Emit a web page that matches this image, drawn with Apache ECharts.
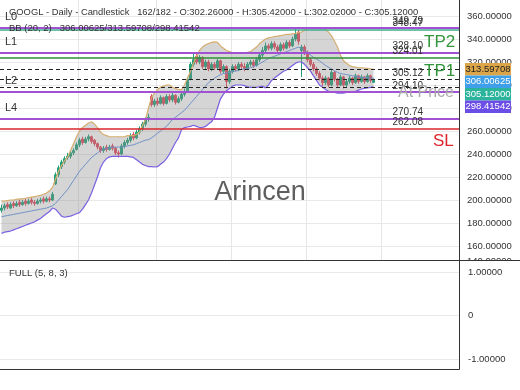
<!DOCTYPE html>
<html><head><meta charset="utf-8">
<script src="https://cdn.jsdelivr.net/npm/echarts@6/dist/echarts.min.js"></script>
<style>html,body{margin:0;padding:0;background:#fff}#c{width:520px;height:390px}</style>
</head><body><div id="c"></div>
<script>
// ---------- data ----------
const symbolTitle = 'GOOGL - Daily - Candlestick';
const barIndex = 162, barTotal = 182;
const totalSlots = 153;
const opens = [191,193,196,193,197,195,198,196,199,197,
200,198,197,199,201,199,201,200,214,222,
229,233,237,238,241,244,248,253,250,253,
255,252,249,246,243,246,244,247,245,241,
240,247,250,252,257,254,259,262,266,270,
290,283,286,284,289,284,290,287,291,285,
288,292,295,305,318,325,320,324,316,320,
314,318,315,321,312,316,303,312,316,314,
318,316,314,318,320,317,322,326,330,334,
332,336,333,330,335,332,337,334,340,346,
330,333,328,322,318,314,310,306,302,306,
300,311,305,300,307,300,303,306,302,308,
303,307,303,308,302.26];
const closes = [193,195,194,196,195,197,196,198,197,199,
198,197,199,200,199,201,200,205,222,228,
233,236,238,241,243,248,252,250,253,255,
251,249,246,243,245,244,246,245,241,240,
247,250,252,256,254,259,262,266,270,272,
283,286,284,289,284,290,287,291,285,288,
292,294,305,318,322,320,324,316,320,314,
318,315,321,312,316,303,312,316,314,318,
316,314,318,320,317,322,326,330,334,332,
336,333,330,335,332,337,334,340,344,338,
333,328,322,318,314,310,306,302,306,300,
311,305,300,307,300,303,306,302,308,303,
307,303,308,304,305.12];
const lows = [189,191,192,192,193,194,194,195,195,196,
196,195,196,197,197,198,198,199,213,220,
227,231,235,236,239,243,246,248,249,251,
249,247,244,241,241,242,243,243,239,237,
239,245,248,250,252,253,257,260,264,268,
281,281,282,283,282,283,285,285,283,284,
286,290,294,304,316,318,318,314,314,312,
312,313,313,310,310,297,301,310,312,312,
314,312,313,316,315,316,320,324,328,330,
330,331,328,329,330,331,332,333,338,335,
307,326,320,316,312,308,304,299,300,298,
299,303,298,299,297,298,301,300,301,301,
302,301,302,302,302.02];
const highs = [196,197,198,198,199,199,200,200,201,201,
202,200,201,202,203,203,203,207,224,230,
235,238,241,243,245,250,254,255,255,257,
256,253,250,247,247,248,248,249,246,243,
249,252,254,258,259,261,264,268,272,275,
292,288,289,291,290,292,292,293,292,290,
294,297,307,320,327,327,326,325,322,322,
320,320,323,322,318,317,314,318,318,320,
320,319,320,322,322,324,328,333,337,336,
338,338,335,337,337,339,339,342,349.79,348,
335,335,330,324,320,316,312,308,308,307,
313,312,306,309,308,305,308,307,310,309,
309,308,310,309,305.42];
const bbUpper = [199,199,199.5,200,200,200.5,201,201,201.5,202,
202.5,203,203.5,204,205,206,208,211,218,225,
230,234,237,243,249,255,260,263,265,267,
268,266,263,259,257,256,255,255,255,255,
255,255,256,256,256,257,259,265,270,280,
289,293,296,298,299,300,300,298,297,296,
296,300,306,312,319,325,330,333,335,336,
337,337.5,337,334,332,330,329,328,328,328,
328,328,328.5,329,331,333,336,338,340,341,
341.5,342,342.5,343,343.5,344,344,344.5,345,345.5,
346,347.5,349,349.5,350,350,350,349.5,348,346,
343,338,333,326,321,319,317,316,315.5,315,
315,314.8,314.5,314,313.59708];
const bbMiddle = [185.5,186,186.5,187,187.5,188,188.5,189,189.5,190,
190.5,191,191.5,192,192.5,193,194,195,197,200,
203,206,209,213,217,221,225,228,231,234,
237,239,241,243,244,245,245.5,246,246,246,
246,246.5,247,247.5,248,249,250,251,252,252.5,
254,256,258,260,262,264,267,270,272,274,
276,278,281,284,287,290,293,296,299,302,
304,306,307.5,309,310,310.5,311,311.5,312,313,
313.5,314,314.5,315,316,317,318.5,320,321.5,323,
324,325,326,327,328,329,330,331,332,333,
332,330,328,326,324,322.5,321,319,317,315.5,
314,312.5,311,310,309.5,309,308.5,308,307.5,307,
306.8,306.5,306.3,306.1,306.00625];
const bbLower = [171,172,172.5,173,174,175,176,177,178,179,
180,181,182.5,184,186,188,190,193,192,189,
186,185,185.5,186,187,188,189,192,196,200,
206,213,220,228,233,236,237.5,238,238,238,
238,238,238,237.5,237,235,233,231,230,229,
229,228.7,229,231,233,236,240,245,250,254,
261,263,263.5,264,265,264,263,263,264,266,
268,272,280,288,292,295,297,299,300,300,
300,299.5,298.5,298,298,298,298.5,299,297.5,300,
304,306,308,310,312,313,315,317,319,320,
320,318,315,312,308,304,300,298,296,294.5,
294,293.5,293,293,293,293.5,294,294,294.5,295.5,
296.5,297,297.5,298,298.41542];
// horizontal levels
const levelValues = [349.79, 348.47, 328.10, 324.01, 313.59708, 305.12, 298.41542, 294.10, 270.74, 262.08];
const levelKinds  = ['purple','teal','purple','green','dash','dash','dash','purple','purple','red'];
const levelValueLabelIdx = [0,1,2,3,5,7,8,9];
const levelNames = [['L0',0],['L1',2],['L2',7],['L4',8]];
// axes ticks
const priceMin = 140, priceMax = 380, priceStep = 20;
const oscMin = -1, oscMax = 1, oscStep = 1;
const vGridIdx = [26, 52, 77, 102, 127];

// ---------- build ----------
const FONT = '"Liberation Sans", Arial, sans-serif';
const cats = Array.from({length: totalSlots}, (_, i) => String(i));
const ohlc = opens.map((o, i) => [o, closes[i], lows[i], highs[i]]);
const bandWidthData = bbUpper.map((u, i) => +(u - bbLower[i]).toFixed(5));
const kindStyle = {
  purple: {color: '#a052d2', width: 2, type: 'solid'},
  teal:   {color: '#3fae8c', width: 1.5, type: 'solid'},
  green:  {color: '#2f8f3a', width: 1.5, type: 'solid'},
  dash:   {color: '#222', width: 1, type: [4, 3]},
  red:    {color: '#d8262c', width: 1.5, type: 'solid'}
};

const option = {
  animation: false,
  backgroundColor: '#fff',
  grid: [
    {left: 0, right: 61, top: -7, height: 276, outerBoundsMode: 'none', containLabel: false},
    {left: 0, right: 61, top: 272, height: 87, outerBoundsMode: 'none', containLabel: false}
  ],
  xAxis: [
    {type: 'category', gridIndex: 0, data: cats, boundaryGap: true,
     axisLine: {show: false}, axisTick: {show: false}, axisLabel: {show: false},
     splitLine: {show: true, interval: (idx) => vGridIdx.includes(idx), lineStyle: {color: '#e6e6e6', width: 1}}},
    {type: 'category', gridIndex: 1, data: cats, boundaryGap: true,
     axisLine: {show: false}, axisTick: {show: false}, axisLabel: {show: false}, splitLine: {show: false}}
  ],
  yAxis: [
    {type: 'value', gridIndex: 0, position: 'right', min: priceMin, max: priceMax, interval: priceStep, scale: true,
     axisLine: {show: true, lineStyle: {color: '#333', width: 1}}, axisTick: {show: false},
     axisLabel: {color: '#333', fontSize: 9.5, fontFamily: FONT, margin: 8, formatter: v => v.toFixed(5)},
     splitLine: {show: true, lineStyle: {color: '#e9e9e9', width: 1}}},
    {type: 'value', gridIndex: 1, position: 'right', min: oscMin, max: oscMax, interval: oscStep, z: 5,
     axisLine: {show: false}, axisTick: {show: false},
     axisLabel: {color: '#333', fontSize: 9.5, fontFamily: FONT, margin: 9, formatter: v => v === 0 ? '0' : v.toFixed(5)},
     splitLine: {show: true, lineStyle: {color: '#e9e9e9', width: 1}}}
  ],
  series: [
    {name: 'bbBase', type: 'line', data: bbLower, stack: 'bb', symbol: 'none', silent: true,
     lineStyle: {opacity: 0}, xAxisIndex: 0, yAxisIndex: 0},
    {name: 'bbFill', type: 'line', data: bandWidthData, stack: 'bb', symbol: 'none', silent: true,
     lineStyle: {opacity: 0}, areaStyle: {color: 'rgba(140,140,140,0.52)'}, xAxisIndex: 0, yAxisIndex: 0},
    {name: 'upper', type: 'line', data: bbUpper, symbol: 'none', silent: true,
     lineStyle: {color: '#d7ae70', width: 1.2}},
    {name: 'middle', type: 'line', data: bbMiddle, symbol: 'none', silent: true,
     lineStyle: {color: '#6f90c8', width: 1}},
    {name: 'lower', type: 'line', data: bbLower, symbol: 'none', silent: true,
     lineStyle: {color: '#7b60e2', width: 1.2}},
    {name: 'price', type: 'candlestick', data: ohlc, barWidth: 2, silent: true,
     itemStyle: {color: '#22a07a', color0: '#e2475b', borderColor: '#22a07a', borderColor0: '#e2475b', borderWidth: 1},
     markLine: {symbol: ['none', 'none'], silent: true, animation: false, label: {show: false},
       data: levelValues.map((v, i) => ({yAxis: v, lineStyle: kindStyle[levelKinds[i]]}))}},
    {name: 'osc', type: 'line', data: [], xAxisIndex: 1, yAxisIndex: 1}
  ]
};

const chart = echarts.init(document.getElementById('c'));
chart.setOption(option);

const py = v => chart.convertToPixel({yAxisIndex: 0}, v);
const txt = (text, x, y, opts = {}) => ({
  type: 'text', z: opts.z ?? 10, silent: true,
  style: Object.assign({text, x, y, fill: '#333', fontSize: 10, fontFamily: FONT,
    textAlign: 'left', textVerticalAlign: 'middle', align: 'left', verticalAlign: 'middle'}, opts.style || {})
});
const last = a => a[a.length - 1];
const g = [];
// partial tick label hidden under lower panel
g.push(txt(priceMin.toFixed(5), 467, 261.5, {z: 2, style: {fontSize: 9.5}}));
// cover to separate panels
g.push({type: 'rect', z: 3, silent: true, shape: {x: 0, y: 260.5, width: 520, height: 130}, style: {fill: '#fff'}});
// panel borders
g.push({type: 'line', z: 9, silent: true, shape: {x1: 0, y1: 260.5, x2: 520, y2: 260.5}, style: {stroke: '#333', lineWidth: 1}});
g.push({type: 'line', z: 9, silent: true, shape: {x1: 459.5, y1: 260.5, x2: 459.5, y2: 369.5}, style: {stroke: '#333', lineWidth: 1}});
g.push({type: 'line', z: 9, silent: true, shape: {x1: 0, y1: 369.5, x2: 459.5, y2: 369.5}, style: {stroke: '#333', lineWidth: 1}});
// headers
g.push(txt(`${symbolTitle}   ${barIndex}/${barTotal} - O:${last(opens).toFixed(5)} - H:${last(highs).toFixed(5)} - L:${last(lows).toFixed(5)} - C:${last(closes).toFixed(5)}`, 9, 12, {style: {fontSize: 9.4}}));
g.push(txt(`BB (20, 2)   ${last(bbMiddle).toFixed(5)}/${last(bbUpper).toFixed(5)}/${last(bbLower).toFixed(5)}`, 9, 28, {style: {fontSize: 9.5}}));
g.push(txt('FULL (5, 8, 3)', 9, 273, {style: {fontSize: 9.5}}));
// left level names
levelNames.forEach(([n, i]) => g.push(txt(n, 5, py(levelValues[i]) - 11, {style: {fontSize: 11}})));
// right value labels
levelValueLabelIdx.forEach(i => g.push(txt(levelValues[i].toFixed(2), 423, py(levelValues[i]) - 6,
  {style: {textAlign: 'right', align: 'right', fontSize: 10}})));
// annotations
g.push(txt('TP2', 424, py(levelValues[3]) - 15, {style: {fontSize: 17, fill: '#33963c'}}));
g.push(txt('TP1', 424, py(levelValues[5]) - 8, {style: {fontSize: 17, fill: '#33963c'}}));
g.push(txt('At Price', 398, py(levelValues[7]) + 0.5, {style: {fontSize: 16, fill: '#a8a8a8'}}));
g.push(txt('SL', 433, py(levelValues[9]) + 12.5, {style: {fontSize: 17, fill: '#e0262c'}}));
// watermark
g.push(txt('Arincen', 260, 193, {z: 1, style: {fontSize: 27, fill: '#5f5f5f', textAlign: 'center', align: 'center'}}));
// right-axis value tags
const tags = [
  [last(bbUpper), '#dba548', '#222'],
  [last(bbMiddle), '#3f9fe9', '#fff'],
  [last(closes), '#2bb39c', '#fff'],
  [last(bbLower), '#6b4ee6', '#fff']
];
let ty = py(last(bbUpper));
tags.forEach(([v, bg, fg], k) => {
  const cy = ty + k * 12.5;
  g.push({type: 'rect', z: 11, silent: true, shape: {x: 465, y: cy - 6.25, width: 46, height: 12.5}, style: {fill: bg}});
  g.push(txt(v.toFixed(5), 488, cy, {z: 12, style: {fill: fg, fontSize: 9.5, textAlign: 'center', align: 'center'}}));
});
chart.setOption({graphic: g});
</script>
</body></html>
